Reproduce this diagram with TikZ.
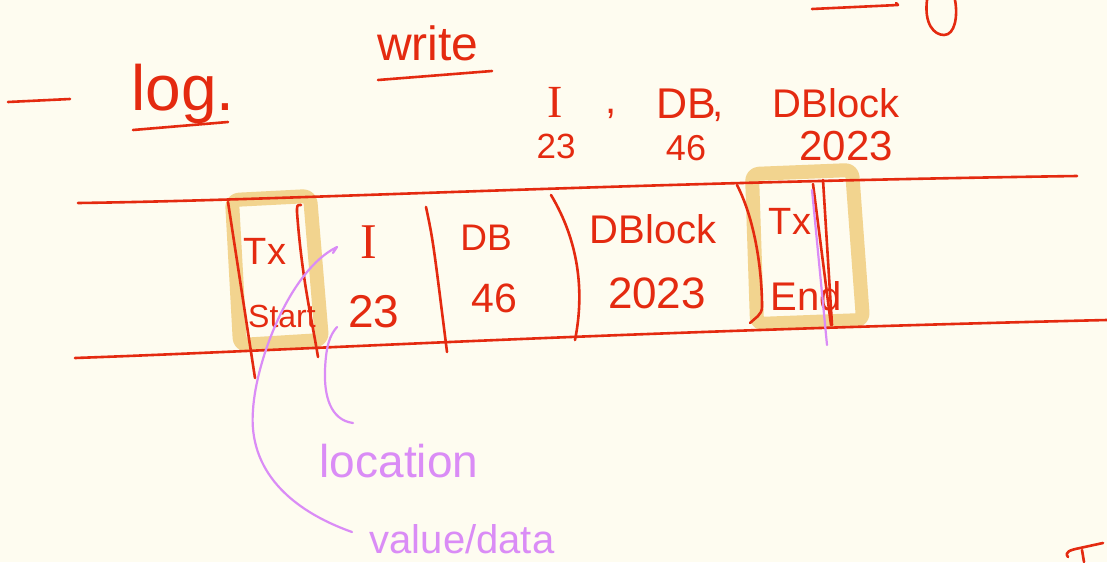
\documentclass[tikz,border=0pt]{standalone}
\usepackage{fontspec}
\setmainfont{Liberation Sans}
\newfontfamily\serifI{Liberation Serif}
\definecolor{bgcream}{HTML}{FEFCF0}
\definecolor{inkred}{HTML}{E42A10}
\definecolor{hlorange}{HTML}{F2D48F}
\definecolor{penpurple}{HTML}{DA8CF6}
\tikzset{
  ink/.style={draw=inkred, line width=2.6pt, line cap=round, line join=round},
  hl/.style={draw=hlorange, line width=14pt, line cap=round, line join=round, rounded corners=7pt},
  pen/.style={draw=penpurple, line width=2.2pt, line cap=round, line join=round},
  txt/.style={text=inkred, inner sep=0pt, anchor=base},
  ptxt/.style={text=penpurple, inner sep=0pt, anchor=base},
  fs/.style={font=\fontsize{#1}{#1}\selectfont}
}
\begin{document}
\begin{tikzpicture}[x=1pt,y=-1pt]
\fill[bgcream] (0,0) rectangle (1107,562);
\useasboundingbox (0,0) rectangle (1107,562);

% highlight boxes
\draw[hl] (232,200) -- (310,196) -- (322,340) -- (240,345) -- cycle;
\draw[hl] (752,174) -- (852,170) -- (863,320) -- (757,324) -- cycle;

% heading
\coordinate (d0a) at (8,102); \coordinate (d0b) at (70,99);
\draw[ink] (d0a) -- (d0b);
\node[txt, fs=64] (log) at (183,110) {log.};
\coordinate (lu1) at (133,130); \coordinate (lu2) at (228,122);
\draw[ink] (lu1) -- (lu2);
\node[txt, fs=48] (write) at (428,60) {write};
\coordinate (wu1) at (378,80); \coordinate (wu2) at (492,71);
\draw[ink] (wu1) -- (wu2);

% top-right partial strokes
\coordinate (tr1) at (812,9); \coordinate (tr2) at (898,5);
\draw[ink] (tr1) -- (tr2) -- (896,3);
\draw[ink] (927,0) .. controls (924,24) and (934,35) .. (944,35) .. controls (955,35) and (958,16) .. (955,0);

% record line above the table
\node[txt, fs=46, font=\serifI\fontsize{46}{46}\selectfont] (tI) at (555,117) {I};
\node[txt, fs=40] (c1) at (611,113) {,};
\node[txt, fs=43] (tDB) at (686,118) {DB};
\node[txt, fs=40] (c2) at (718,116) {,};
\node[txt, fs=40] (tDBlock) at (836,117) {DBlock};
\node[txt, fs=35] (t23) at (556,158) {23};
\node[txt, fs=36] (t46) at (686,160) {46};
\node[txt, fs=42] (t2023) at (846,160) {2023};

% table lines
\coordinate (tl1) at (78,203); \coordinate (tl2) at (1077,176);
\coordinate (bl1) at (75,358); \coordinate (bl2) at (1107,320);
\draw[ink] (tl1) .. controls (300,200) and (600,183) .. (tl2);
\draw[ink] (bl1) .. controls (300,350) and (600,332) .. (bl2);

% dividers
\draw[ink] (228,202) -- (255,378);
\draw[ink] (301,205) .. controls (297,205) .. (297,212) .. controls (302,280) and (312,320) .. (318,357);
\draw[ink] (426,207) .. controls (433,240) .. (447,352);
\draw[ink] (551,195) .. controls (578,240) and (585,290) .. (575,340);
\draw[ink] (737,185) .. controls (755,220) and (762,270) .. (762,307) .. controls (762,315) and (755,318) .. (750,323);
\draw[ink] (813,184) -- (831,325);
\draw[ink] (823,180) -- (832,325);

% table cells
\node[txt, fs=38] (cTx) at (265,264) {Tx};
\node[txt, fs=32] (cStart) at (282,327) {Start};
\node[txt, font=\serifI\fontsize{50}{50}\selectfont] (cI) at (369,258) {I};
\node[txt, fs=46] (c23) at (374,327) {23};
\node[txt, fs=37] (cDB) at (486,250) {DB};
\node[txt, fs=41] (c46) at (494,312) {46};
\node[txt, fs=40] (cDBlock) at (653,243) {DBlock};
\node[txt, fs=44] (c2023) at (657,308) {2023};
\node[txt, fs=38] (eTx) at (790,234) {Tx};
\node[txt, fs=40] (eEnd) at (806,310) {End};

% purple annotations
\draw[pen] (812,190) -- (827,345);
\node[ptxt, fs=46] (loc) at (399,477) {location};
\node[ptxt, fs=40] (vd) at (462,553) {value/data};
\coordinate (vdS) at (352,532);
\coordinate (vdE) at (337,247);
\coordinate (locS) at (353,423);
\coordinate (locE) at (337,327);
\draw[pen] (vdS) .. controls (290,510) and (248,470) .. (253,410) .. controls (256,360) and (290,270) .. (vdE) -- (333,253);
\draw[pen] (locS) .. controls (330,420) and (324,395) .. (325,370) .. controls (326,345) and (330,335) .. (locE);

% bottom-right partial stroke
\draw[ink] (1068,557) .. controls (1064,552) and (1070,550) .. (1080,548) -- (1103,543);
\draw[ink] (1082,550) -- (1084,562);
\end{tikzpicture}
\end{document}
